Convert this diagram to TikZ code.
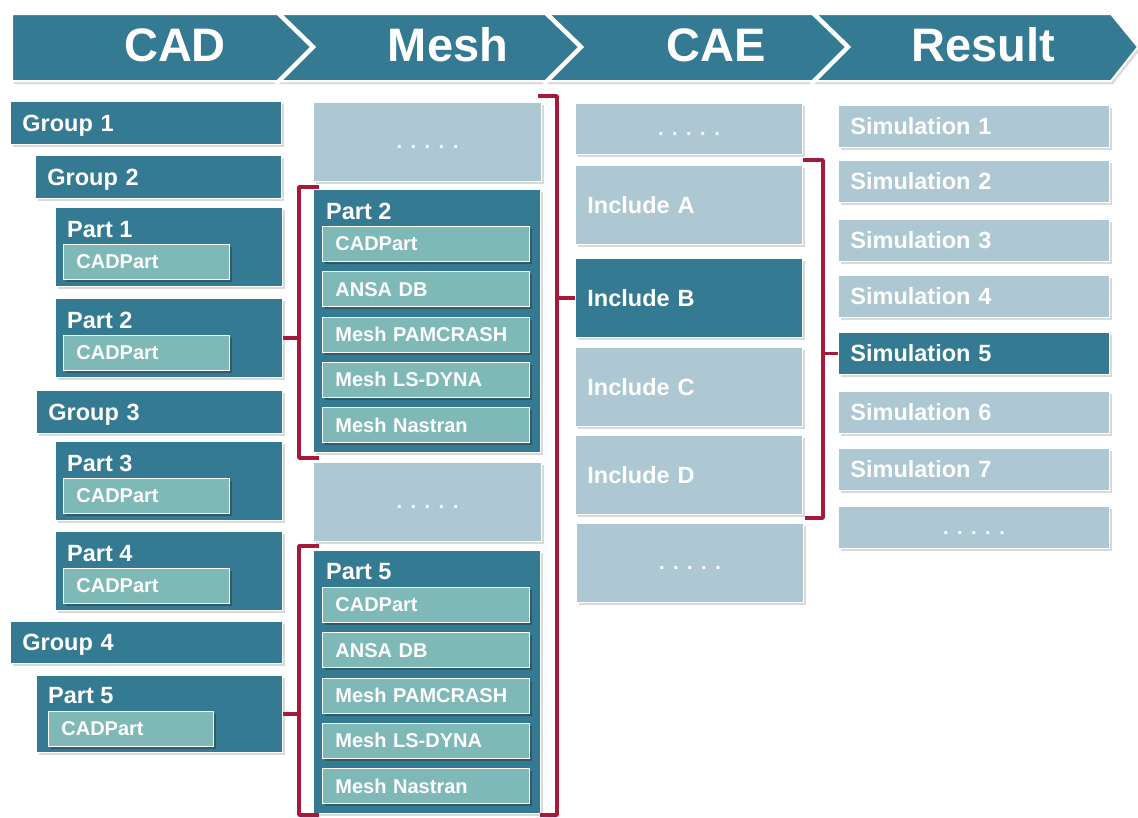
\documentclass[tikz,border=0pt]{standalone}
\usepackage{fontspec}
\setmainfont{Liberation Sans}
\usetikzlibrary{shadows}
\definecolor{deepteal}{RGB}{51,122,146}
\definecolor{paleblue}{RGB}{173,200,210}
\definecolor{seagreen}{RGB}{127,185,183}
\definecolor{wine}{RGB}{168,24,56}
\newcommand{\fivedots}{\raisebox{-7pt}[0pt][0pt]{.\hspace{8.5pt}.\hspace{8.5pt}.\hspace{8.5pt}.\hspace{8.5pt}.}}

\tikzset{
  tile/.style={draw=white, line width=0.8pt, anchor=north west, text=white,
    drop shadow={shadow xshift=2.5pt, shadow yshift=-2.5pt, opacity=0.3}},
  darkbox/.style={tile, fill=deepteal, inner xsep=12pt, inner ysep=0pt, align=left,
    text height=17pt, text depth=0pt, font=\fontsize{23.5}{26}\bfseries\selectfont},
  palebox/.style={darkbox, fill=paleblue},
  dotbox/.style={tile, fill=paleblue, inner sep=0pt,
    font=\fontsize{20}{22}\bfseries\selectfont},
  cellbox/.style={fill=seagreen, draw=white, line width=0.8pt, anchor=north west, text=white,
    minimum height=35pt, inner xsep=13pt, inner ysep=0pt, align=left,
    font=\fontsize{20}{22}\bfseries\selectfont,
    drop shadow={shadow xshift=2.5pt, shadow yshift=-2.5pt, opacity=0.45, fill=black!80}},
  parttitle/.style={anchor=west, inner sep=0pt, text=white, font=\fontsize{23.5}{26}\bfseries\selectfont},
  headtxt/.style={text=white, inner sep=0pt, font=\fontsize{47}{50}\bfseries\selectfont},
  bracket/.style={draw=wine, line width=3.5pt, line join=round}
}

\begin{document}
\begin{tikzpicture}[x=1pt, y=-1pt]
  \useasboundingbox (0,0) rectangle (1138,817);
  % header band
  \path[fill=deepteal, draw=white, line width=2pt,
    drop shadow={shadow xshift=2pt, shadow yshift=-3pt, opacity=0.3}]
    (12,14) -- (1111,14) -- (1138,47) -- (1111,81) -- (12,81) -- cycle;
  \foreach \x in {277,545,812}
    \draw[white, line width=4.5pt] (\x-1,11) -- (\x+36,47) -- (\x-1,84);
  \node[headtxt] (hcad) at (175,45) {CAD};
  \node[headtxt] (hmesh) at (448,45) {Mesh};
  \node[headtxt] (hcae) at (716,45) {CAE};
  \node[headtxt] (hres) at (983,45) {Result};

  % CAD column
  \node[darkbox, text width=247pt, minimum height=43pt] (grp1) at (10,101) {Group 1};
  \node[darkbox, text width=222pt, minimum height=43pt] (grp2) at (35,155) {Group 2};
  \node[darkbox, text width=222pt, minimum height=43pt] (grp3) at (36,390) {Group 3};
  \node[darkbox, text width=248pt, minimum height=42pt] (grp4) at (10,621) {Group 4};
  \foreach \i/\y in {1/207, 2/298, 3/441, 4/531} {
    \node[tile, fill=deepteal, minimum width=227pt, minimum height=79pt] (cp\i) at (55,\y) {};
    \node[parttitle] (cp\i-t) at (67,\y+22.5) {Part \i};
    \node[cellbox, text width=140pt] (cp\i-c) at (63,\y+37) {CADPart};
  }
  \node[tile, fill=deepteal, minimum width=246pt, minimum height=77pt] (cp5) at (36,675) {};
  \node[parttitle] (cp5-t) at (48,696) {Part 5};
  \node[cellbox, text width=139pt] (cp5-c) at (48,711) {CADPart};

  % Mesh column
  \node[dotbox, minimum width=228pt, minimum height=79pt] (mdots1) at (313,102) {\fivedots};
  \node[dotbox, minimum width=228pt, minimum height=79pt] (mdots2) at (313,462) {\fivedots};
  \foreach \p/\y in {2/189, 5/550} {
    \node[tile, fill=deepteal, minimum width=227pt, minimum height=263pt] (mp\p) at (313,\y) {};
    \node[parttitle] (mp\p-t) at (326,\y+22) {Part \p};
    \foreach \t [count=\k from 0] in {CADPart, ANSA DB, Mesh PAMCRASH, Mesh LS-DYNA, Mesh Nastran}
      \node[cellbox, text width=181pt] (mp\p-\k) at (322,\y+37+45.3*\k) {\t};
  }

  % CAE column
  \node[dotbox, minimum width=227pt, minimum height=51pt] (cdots1) at (575,103) {\fivedots};
  \foreach \n/\y/\s in {A/165/palebox, B/258/darkbox, C/347/palebox, D/435/palebox}
    \node[\s, text width=203pt, minimum height=79pt] (inc\n) at (575,\y) {Include \n};
  \node[dotbox, minimum width=227pt, minimum height=79pt] (cdots2) at (576,523) {\fivedots};

  % Result column
  \foreach \i/\y/\s in {1/105/palebox, 2/160/palebox, 3/219/palebox, 4/275/palebox,
                         5/332/darkbox, 6/391/palebox, 7/448/palebox}
    \node[\s, text width=247pt, minimum height=42pt] (sim\i) at (838,\y) {Simulation \i};
  \node[dotbox, minimum width=271pt, minimum height=42pt] (sdots) at (838,506) {\fivedots};

  % brackets
  \coordinate (mbr) at (557,96);
  \draw[bracket] (538,96) -- (mbr) -- (557,815) -- (540,815);
  \draw[bracket] (mbr |- incB.west) -- (incB.west);
  \coordinate (lbr2) at (299,187);
  \draw[bracket] (319,187) -- (lbr2) -- (299,458) -- (319,458);
  \draw[bracket] (cp2.east) -- (cp2.east -| lbr2);
  \coordinate (lbr5) at (299,546);
  \draw[bracket] (319,546) -- (lbr5) -- (299,815) -- (319,815);
  \draw[bracket] (cp5.east) -- (cp5.east -| lbr5);
  \coordinate (rbr) at (823,160);
  \draw[bracket] (803,160) -- (rbr) -- (823,518) -- (805,518);
  \draw[bracket] (rbr |- sim5.west) -- (sim5.west);
\end{tikzpicture}
\end{document}
